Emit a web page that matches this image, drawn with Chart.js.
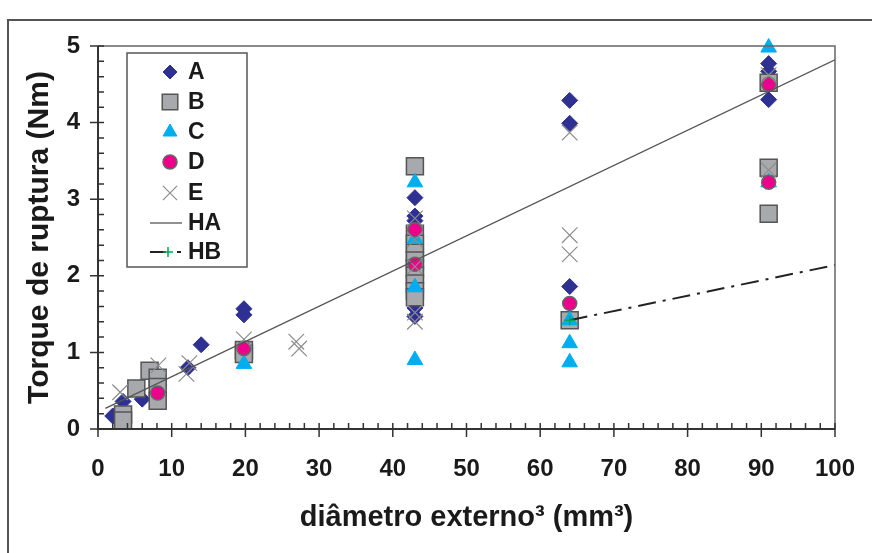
<!DOCTYPE html>
<html>
<head>
<meta charset="utf-8">
<script src="https://cdn.jsdelivr.net/npm/chart.js@4.4.1/dist/chart.umd.min.js"></script>
<style>
html, body { margin: 0; padding: 0; background: #fff; }
#wrap { position: relative; width: 872px; height: 553px; overflow: hidden; }
#frame { position: absolute; left: 7px; top: 19px; width: 900px; height: 600px; border-left: 2px solid #555; border-top: 2px solid #555; pointer-events: none; }
canvas { position: absolute; left: 0; top: 0; }
</style>
</head>
<body>
<div id="wrap">
    <canvas id="torqueChart" width="872" height="553"></canvas>
    <div id="frame"></div>
</div>
<script>
// ===== 数据 =====
const xA = [2, 3.4, 6, 12.2, 14, 19.8, 19.8, 43, 43, 43, 43, 43, 43, 64, 64, 64, 91, 91, 91, 91];
const yA = [0.17, 0.36, 0.39, 0.80, 1.10, 1.57, 1.49, 3.02, 2.78, 2.72, 2.00, 1.58, 1.47, 4.29, 3.99, 1.86, 4.77, 4.67, 4.57, 4.30];

const xB = [3.4, 3.4, 5.2, 7, 8.1, 8.1, 8.1, 19.8, 19.8, 43, 43, 43, 43, 43, 43, 43, 43, 43, 43, 64, 91, 91, 91];
const yB = [0.19, 0.11, 0.53, 0.76, 0.67, 0.55, 0.37, 1.03, 0.98, 3.43, 2.55, 2.42, 2.30, 2.20, 2.10, 2.00, 1.90, 1.80, 1.72, 1.42, 4.52, 3.41, 2.81];

const xC = [19.8, 43, 43, 43, 43, 64, 64, 64, 91, 91];
const yC = [0.85, 3.22, 2.48, 1.85, 0.90, 1.42, 1.12, 0.87, 4.98, 3.22];

const xD = [8.1, 19.8, 43, 43, 64, 91, 91];
const yD = [0.47, 1.05, 2.60, 2.15, 1.64, 4.50, 3.22];

const xE = [3, 8.2, 12, 12.4, 19.8, 26.9, 27.3, 43, 43, 43, 43, 43, 64, 64, 64, 91, 91];
const yE = [0.48, 0.83, 0.72, 0.86, 1.17, 1.14, 1.05, 2.75, 2.47, 2.12, 1.52, 1.40, 3.87, 2.53, 2.28, 3.38, 4.62];

const xHA = [1, 100];
const yHA = [0.27, 4.82];

const xHB = [64, 100];
const yHB = [1.42, 2.14];

const xTicks = [0, 10, 20, 30, 40, 50, 60, 70, 80, 90, 100];
const yTicks = [0, 1, 2, 3, 4, 5];

const FONT = "'Liberation Sans', Arial, sans-serif";

function pts(xs, ys) {
    return xs.map((x, i) => ({ x: x, y: ys[i] }));
}

// ===== 刻度线 + 边框 =====
const axisPlugin = {
    id: 'axisTicks',
    afterDatasetsDraw(chart) {
        const ctx = chart.ctx;
        const area = chart.chartArea;
        const sx = chart.scales.x, sy = chart.scales.y;
        ctx.save();
        // 外框（上、右）
        ctx.strokeStyle = '#666';
        ctx.lineWidth = 1.5;
        ctx.beginPath();
        ctx.moveTo(area.left, area.top);
        ctx.lineTo(area.right, area.top);
        ctx.lineTo(area.right, area.bottom);
        ctx.stroke();
        // 坐标轴
        ctx.strokeStyle = '#333';
        ctx.lineWidth = 2;
        ctx.beginPath();
        ctx.moveTo(area.left, area.top);
        ctx.lineTo(area.left, area.bottom);
        ctx.lineTo(area.right, area.bottom);
        ctx.stroke();
        ctx.lineWidth = 1.5;
        ctx.beginPath();
        for (let v = 0; v <= 100; v += 2) {
            const px = sx.getPixelForValue(v);
            const major = v % 10 === 0;
            ctx.moveTo(px, area.bottom - 6);
            ctx.lineTo(px, area.bottom + (major ? 8 : 0));
        }
        for (let k = 0; k <= 25; k++) {
            const py = sy.getPixelForValue(k / 5);
            const major = k % 5 === 0;
            ctx.moveTo(area.left - (major ? 8 : 0), py);
            ctx.lineTo(area.left + 6, py);
        }
        ctx.stroke();
        ctx.restore();
    }
};

// ===== 图例（画在图内左上） =====
const legendPlugin = {
    id: 'boxLegend',
    afterDraw(chart) {
        const ctx = chart.ctx;
        const left = 127, top = 53, w = 120, h = 214;
        const rowY = [72, 102, 132, 162, 193, 223, 252];
        const mx = 170, tx = 188;
        ctx.save();
        ctx.fillStyle = '#fff';
        ctx.fillRect(left, top, w, h);
        ctx.strokeStyle = '#555';
        ctx.lineWidth = 1.5;
        ctx.strokeRect(left, top, w, h);
        chart.data.datasets.forEach((ds, i) => {
            const y = rowY[i];
            if (ds.showLine) {
                ctx.strokeStyle = ds.borderColor;
                ctx.lineWidth = ds.borderWidth;
                ctx.beginPath();
                if (ds.borderDash) {
                    ctx.moveTo(150, y); ctx.lineTo(166, y);
                    ctx.moveTo(177, y); ctx.lineTo(181, y);
                } else {
                    ctx.moveTo(150, y); ctx.lineTo(182, y);
                }
                ctx.stroke();
                if (ds.legendMarker) {
                    ctx.strokeStyle = ds.pointBorderColor;
                    ctx.lineWidth = ds.pointBorderWidth;
                    Chart.helpers.drawPoint(ctx, {
                        pointStyle: 'cross', radius: 5, borderWidth: 1.5, rotation: 0
                    }, 168, y);
                }
            } else {
                ctx.fillStyle = ds.backgroundColor;
                ctx.strokeStyle = ds.borderColor;
                ctx.lineWidth = ds.borderWidth;
                Chart.helpers.drawPoint(ctx, {
                    pointStyle: ds.pointStyle, radius: ds.legendRadius, borderWidth: ds.borderWidth, rotation: 0
                }, mx, y);
            }
            ctx.fillStyle = '#1a1a1a';
            ctx.font = 'bold 23px ' + FONT;
            ctx.textBaseline = 'middle';
            ctx.textAlign = 'left';
            ctx.fillText(ds.label, tx, y + 1);
        });
        ctx.restore();
    }
};

const ctx = document.getElementById('torqueChart').getContext('2d');

const torqueChart = new Chart(ctx, {
    type: 'scatter',
    data: {
        datasets: [
            {
                label: 'A', data: pts(xA, yA), pointStyle: 'rectRot',
                backgroundColor: '#2e3192', borderColor: '#2e3192', borderWidth: 1,
                pointRadius: 8, legendRadius: 7, order: 5, clip: false
            },
            {
                label: 'B', data: pts(xB, yB), pointStyle: 'rect',
                backgroundColor: '#a7a9ac', borderColor: '#555', borderWidth: 1.5,
                pointRadius: 12, legendRadius: 11, order: 4, clip: false
            },
            {
                label: 'C', data: pts(xC, yC), pointStyle: 'triangle',
                backgroundColor: '#00aeef', borderColor: '#00aeef', borderWidth: 1,
                pointRadius: 9, legendRadius: 8, order: 3, clip: false
            },
            {
                label: 'D', data: pts(xD, yD), pointStyle: 'circle',
                backgroundColor: '#ec008c', borderColor: '#666', borderWidth: 1.5,
                pointRadius: 7, legendRadius: 7, order: 2, clip: false
            },
            {
                label: 'E', data: pts(xE, yE), pointStyle: 'crossRot',
                backgroundColor: '#8c8c8c', borderColor: '#8c8c8c', borderWidth: 1.2,
                pointRadius: 11, legendRadius: 10, order: 1, clip: false
            },
            {
                label: 'HA', data: pts(xHA, yHA), showLine: true,
                borderColor: '#555', borderWidth: 1.3, pointRadius: 0, order: 0
            },
            {
                label: 'HB', data: pts(xHB, yHB), showLine: true,
                borderColor: '#222', borderWidth: 2, borderDash: [18, 7, 3, 7],
                pointStyle: 'cross', pointRadius: [5, 0], pointBorderColor: '#00a651',
                pointBorderWidth: 1.5, legendMarker: true, order: 0
            }
        ]
    },
    options: {
        responsive: false,
        animation: false,
        layout: { padding: { left: 0, top: 46, right: 37, bottom: 0 } },
        plugins: {
            legend: { display: false },
            tooltip: { enabled: false }
        },
        scales: {
            x: {
                type: 'linear', min: 0, max: 100,
                afterFit: function(scale) {
                    scale.height = 124;
                    scale.paddingLeft = 0;
                    scale.paddingRight = 0;
                },
                afterBuildTicks: function(scale) { scale.ticks = xTicks.map(v => ({ value: v })); },
                grid: { display: false, drawTicks: false },
                border: { display: false },
                ticks: {
                    padding: 26, color: '#1a1a1a',
                    font: { family: FONT, size: 24, weight: 'bold' }
                },
                title: {
                    display: true, text: 'diâmetro externo³ (mm³)', color: '#1a1a1a',
                    padding: { top: 0, bottom: 18 },
                    font: { family: FONT, size: 29, weight: 'bold' }
                }
            },
            y: {
                type: 'linear', min: 0, max: 5,
                afterFit: function(scale) {
                    scale.width = 98;
                    scale.paddingTop = 0;
                    scale.paddingBottom = 0;
                },
                afterBuildTicks: function(scale) { scale.ticks = yTicks.map(v => ({ value: v })); },
                grid: { display: false, drawTicks: false },
                border: { display: false },
                ticks: {
                    padding: 18, color: '#1a1a1a',
                    font: { family: FONT, size: 24, weight: 'bold' }
                },
                title: {
                    display: true, text: 'Torque de ruptura (Nm)', color: '#1a1a1a',
                    padding: { top: 22, bottom: 0 },
                    font: { family: FONT, size: 30, weight: 'bold' }
                }
            }
        }
    },
    plugins: [axisPlugin, legendPlugin]
});
</script>
</body>
</html>
